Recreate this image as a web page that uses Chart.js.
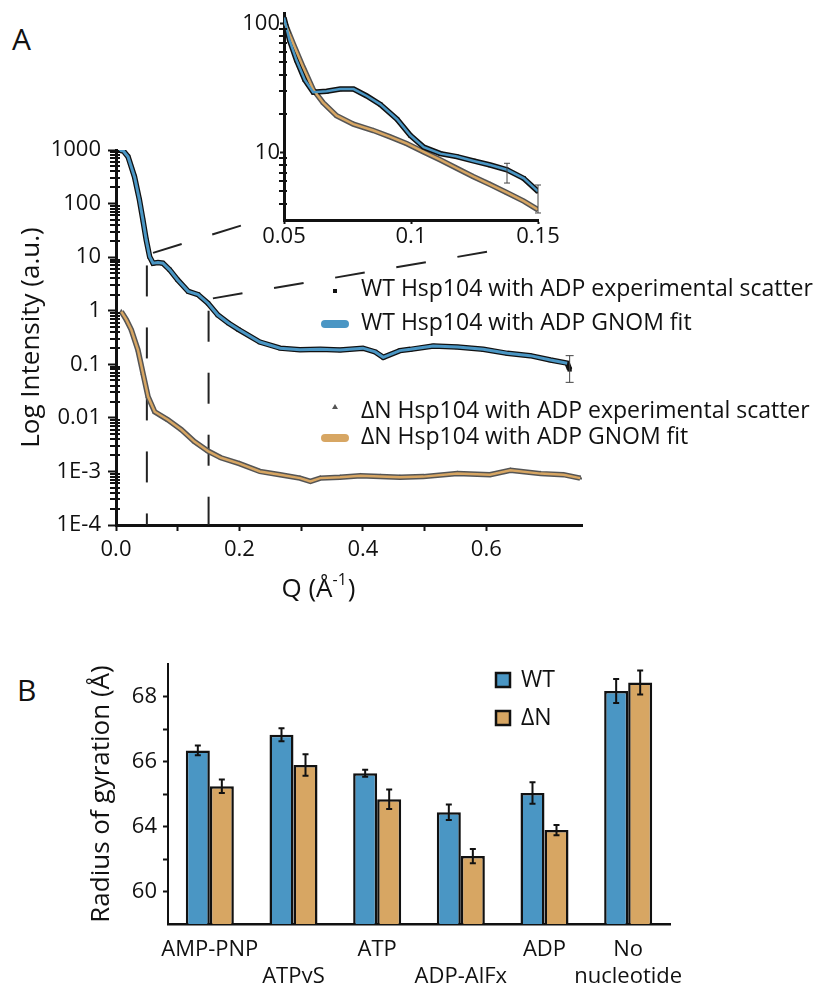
<!DOCTYPE html>
<html lang="en">
<head>
<meta charset="UTF-8">
<title>Hsp104 SAXS and radius of gyration</title>
<script src="https://cdn.jsdelivr.net/npm/chart.js"></script>
<style>
  body { margin: 0; background: #fff; }
  #wrap { position: relative; width: 822px; height: 983px; font-family: 'Open Sans', sans-serif; color: #111; }
  #wrap canvas { position: absolute; }
  .panel { position: absolute; font-size: 30px; line-height: 1; }
</style>
</head>
<body>
<div id="wrap">
  <div class="panel" style="left:12px; top:24px">A</div>
  <div class="panel" style="left:17px; top:675px">B</div>
  <canvas id="mainChart" width="822" height="620" style="left:0; top:0"></canvas>
  <canvas id="insetChart" width="370" height="250" style="left:200px; top:0"></canvas>
  <canvas id="rgChart" width="822" height="343" style="left:0; top:640px"></canvas>
</div>

<script>
// ---- panel A: scattering curves (Q in 1/Å, intensity in a.u.) ----
const wtQ = [0.005, 0.012, 0.0195, 0.030, 0.038, 0.0437, 0.049, 0.0545, 0.060, 0.068, 0.076, 0.087, 0.100,
  0.117, 0.133, 0.149, 0.165, 0.182, 0.198, 0.233, 0.266, 0.298, 0.331, 0.363, 0.400, 0.420, 0.433, 0.460,
  0.477, 0.514, 0.553, 0.595, 0.634, 0.671, 0.704, 0.731];
const wtI = [1000, 960, 750, 316, 117, 49, 21, 10.2, 7.7, 7.9, 7.7, 5.8, 3.76,
  2.3, 2.0, 1.38, 0.83, 0.59, 0.45, 0.26, 0.20, 0.186, 0.19, 0.185, 0.20, 0.17, 0.135, 0.18,
  0.19, 0.22, 0.21, 0.19, 0.16, 0.145, 0.12, 0.105];
// last experimental WT point and its error bar
const wtTailQ = [0.735];
const wtTailI = [0.08];
const wtTailLo = [0.046];
const wtTailHi = [0.145];

const dnQ = [0.0086, 0.0167, 0.0248, 0.0355, 0.0437, 0.0519, 0.0627, 0.084, 0.106, 0.127, 0.149, 0.170,
  0.200, 0.233, 0.266, 0.298, 0.315, 0.331, 0.363, 0.396, 0.428, 0.460, 0.498, 0.553, 0.606, 0.639,
  0.688, 0.725, 0.752];
const dnI = [0.96, 0.68, 0.44, 0.186, 0.068, 0.025, 0.013, 0.0092, 0.006, 0.0036, 0.0024, 0.0018,
  0.0014, 0.001, 0.00087, 0.00075, 0.00065, 0.00075, 0.00078, 0.00083, 0.0008, 0.00078, 0.0008, 0.00091,
  0.00087, 0.00105, 0.00091, 0.00087, 0.00075];

const mainYTickValues = [1000, 100, 10, 1, 0.1, 0.01, 0.001, 0.0001];
const mainYTickLabels = ['1000', '100', '10', '1', '0.1', '0.01', '1E-3', '1E-4'];

// zoomed region marked on the main plot
const zoomEdgeQ = [0.05, 0.15];
const zoomEdgeTopI = [7, 1];

// inset (0.05 - 0.15)
const insetWtQ = [0.05, 0.0522, 0.0549, 0.0582, 0.0615, 0.0668, 0.0721, 0.0774, 0.0826, 0.0879, 0.0945,
  0.0997, 0.105, 0.1116, 0.118, 0.1246, 0.1312, 0.1378, 0.1444, 0.15];
const insetWtI = [111, 74, 52, 36.5, 29.3, 29.8, 31, 31, 27.4, 23.6, 18.1, 13.6, 11.0, 9.8, 9.3, 8.6, 8.0,
  7.35, 6.3, 5.0];
const insetWtErrQ = [0.1378, 0.15];
const insetWtErrLo = [5.8, 3.4];
const insetWtErrHi = [8.25, 5.6];
const insetDnQ = [0.05, 0.0536, 0.0575, 0.0615, 0.0654, 0.0707, 0.0773, 0.0852, 0.0918, 0.0984, 0.105,
  0.1116, 0.118, 0.1246, 0.1312, 0.1378, 0.1444, 0.15];
const insetDnI = [105, 70, 46, 30.7, 24.3, 19.3, 16.6, 14.8, 13.2, 11.7, 10.1, 8.75, 7.55, 6.5, 5.65, 4.88,
  4.2, 3.6];

// ---- panel B: radius of gyration ----
const nucleotides = [['AMP-PNP', ''], ['', 'ATPγS'], ['ATP', ''], ['', 'ADP-AlFx'], ['ADP', ''], ['No', 'nucleotide']];
const rgWT = [66.34, 66.82, 65.64, 64.44, 65.03, 68.17];
const rgWTErr = [0.15, 0.2, 0.11, 0.24, 0.33, 0.37];
const rgDN = [65.24, 65.89, 64.84, 63.09, 63.89, 68.43];
const rgDNErr = [0.21, 0.33, 0.3, 0.22, 0.16, 0.37];
const rgTickValues = [62, 64, 66, 68];
const rgTickLabels = ['60', '64', '66', '68'];

const blue = '#4a96c4';
const tan = '#d7a663';
const grey = '#555555';
const ink = '#111111';
const fontFam = "'Open Sans', sans-serif";

Chart.defaults.font.family = fontFam;
Chart.defaults.color = ink;
Chart.defaults.animation = false;

const pts = (qs, is) => qs.map((q, i) => ({ x: q, y: is[i] }));
const fixedWidth = w => scale => { scale.width = w; };
const fixedHeight = h => scale => { scale.height = h; };

function errBar(ctx, x, yTop, yBot, cap) {
  ctx.beginPath();
  ctx.moveTo(x, yTop); ctx.lineTo(x, yBot);
  ctx.moveTo(x - cap, yTop); ctx.lineTo(x + cap, yTop);
  ctx.moveTo(x - cap, yBot); ctx.lineTo(x + cap, yBot);
  ctx.stroke();
}

// small log ticks (2..9 x 10^n) straddling the y axis line
function logMinorTicks(chart, out, inn) {
  const { ctx, scales: { y } } = chart;
  ctx.save();
  ctx.strokeStyle = ink;
  ctx.lineWidth = 2;
  ctx.beginPath();
  for (let e = Math.floor(Math.log10(y.min)); e <= Math.ceil(Math.log10(y.max)); e++) {
    for (let k = 2; k <= 9; k++) {
      const v = k * Math.pow(10, e);
      if (v <= y.min || v >= y.max) continue;
      const py = Math.round(y.getPixelForValue(v));
      ctx.moveTo(y.right - out, py);
      ctx.lineTo(y.right + inn, py);
    }
  }
  ctx.stroke();
  ctx.restore();
}

// dashed zoom markers, legend, x title
const mainDecor = {
  id: 'mainDecor',
  beforeDatasetsDraw(chart) {
    const { ctx, chartArea, scales: { x, y } } = chart;
    ctx.save();
    ctx.strokeStyle = '#222';
    ctx.lineWidth = 2;
    ctx.setLineDash([31, 31]);
    zoomEdgeQ.forEach((q, i) => {
      const px = x.getPixelForValue(q);
      ctx.beginPath();
      ctx.moveTo(px, y.getPixelForValue(zoomEdgeTopI[i]));
      ctx.lineTo(px, chartArea.bottom);
      ctx.stroke();
    });
    ctx.restore();
  },
  afterDatasetsDraw(chart) {
    const { ctx, scales: { x, y } } = chart;
    ctx.save();
    // connectors toward the inset
    ctx.strokeStyle = '#222';
    ctx.lineWidth = 2;
    ctx.setLineDash([30, 32]);
    ctx.beginPath();
    ctx.moveTo(x.getPixelForValue(0.06), y.getPixelForValue(12));
    ctx.lineTo(246, 224);
    ctx.moveTo(x.getPixelForValue(0.157), y.getPixelForValue(1.7));
    ctx.lineTo(492, 251);
    ctx.stroke();
    ctx.setLineDash([]);
    // error bar on the last WT point
    ctx.strokeStyle = '#444';
    ctx.lineWidth = 1;
    wtTailQ.forEach((q, i) => {
      errBar(ctx, x.getPixelForValue(q), y.getPixelForValue(wtTailHi[i]), y.getPixelForValue(wtTailLo[i]), 4);
    });
    ctx.restore();
  },
  afterDraw(chart) {
    logMinorTicks(chart, 6, 4);
    const { ctx } = chart;
    ctx.save();
    ctx.fillStyle = ink;
    ctx.font = '23px ' + fontFam;
    ctx.textBaseline = 'middle';
    ctx.textAlign = 'left';
    // legend
    ctx.fillRect(333, 289, 4, 4);
    ctx.fillText('WT Hsp104 with ADP experimental scatter', 361, 289);
    ctx.lineCap = 'round';
    ctx.lineWidth = 8;
    ctx.strokeStyle = blue;
    ctx.beginPath(); ctx.moveTo(325, 324); ctx.lineTo(345, 324); ctx.stroke();
    ctx.fillText('WT Hsp104 with ADP GNOM fit', 361, 323);
    ctx.fillStyle = grey;
    ctx.beginPath(); ctx.moveTo(335, 404); ctx.lineTo(338, 409); ctx.lineTo(332, 409); ctx.closePath(); ctx.fill();
    ctx.fillStyle = ink;
    ctx.fillText('ΔN Hsp104 with ADP experimental scatter', 361, 411);
    ctx.strokeStyle = tan;
    ctx.beginPath(); ctx.moveTo(325, 438); ctx.lineTo(345, 438); ctx.stroke();
    ctx.fillText('ΔN Hsp104 with ADP GNOM fit', 361, 437);
    // x axis title with superscript
    const big = '26px ' + fontFam, small = '16px ' + fontFam;
    ctx.font = big;
    const a = 'Q (Å', c = ')';
    const wa = ctx.measureText(a).width, wc = ctx.measureText(c).width;
    ctx.font = small;
    const wb = ctx.measureText('-1').width;
    let sx = 318 - (wa + wb + wc) / 2;
    ctx.font = big; ctx.fillText(a, sx, 590);
    ctx.font = small; ctx.fillText('-1', sx + wa, 580);
    ctx.font = big; ctx.fillText(c, sx + wa + wb + 1, 590);
    ctx.restore();
  }
};

new Chart(document.getElementById('mainChart'), {
  type: 'scatter',
  data: {
    datasets: [
      { label: 'WT Hsp104 with ADP GNOM fit', data: pts(wtQ, wtI), showLine: true,
        borderColor: blue, borderWidth: 3, pointRadius: 0, order: 1 },
      { label: 'WT Hsp104 with ADP experimental scatter', data: pts(wtQ.concat(wtTailQ), wtI.concat(wtTailI)),
        showLine: true, borderColor: ink, borderWidth: 5.5, pointStyle: 'rect', pointRadius: 3,
        pointBackgroundColor: ink, pointBorderWidth: 0, order: 2 },
      { label: 'ΔN Hsp104 with ADP GNOM fit', data: pts(dnQ, dnI), showLine: true,
        borderColor: tan, borderWidth: 2.5, pointRadius: 0, order: 1 },
      { label: 'ΔN Hsp104 with ADP experimental scatter', data: pts(dnQ, dnI), showLine: true,
        borderColor: grey, borderWidth: 5.5, pointStyle: 'triangle', pointRadius: 3,
        pointBackgroundColor: grey, pointBorderWidth: 0, order: 2 }
    ]
  },
  options: {
    responsive: false,
    layout: { padding: { left: 0, top: 150, right: 240, bottom: 15 } },
    plugins: { legend: { display: false }, tooltip: { enabled: false } },
    scales: {
      x: {
        type: 'linear', min: 0, max: 0.755, afterFit: fixedHeight(80),
        ticks: {
          stepSize: 0.1, autoSkip: false, maxRotation: 0, padding: 6, font: { size: 22 }, color: ink,
          callback: v => {
            const k = Math.round(v * 10);
            if (Math.abs(v * 10 - k) > 1e-6) return null;
            return k % 2 === 0 ? (k / 10).toFixed(1) : '';
          }
        },
        grid: { drawOnChartArea: false, tickLength: 6, tickColor: ink, tickWidth: 2 },
        border: { color: ink, width: 3 }
      },
      y: {
        type: 'logarithmic', min: 0.0001, max: 1000, afterFit: fixedWidth(116),
        title: { display: true, text: 'Log Intensity (a.u.)', font: { size: 26 }, color: ink, padding: { top: 16, bottom: 0 } },
        ticks: {
          autoSkip: false, padding: 7, font: { size: 22 }, color: ink,
          callback: v => {
            const i = mainYTickValues.findIndex(t => Math.abs(Math.log10(t) - Math.log10(v)) < 1e-6);
            return i >= 0 ? mainYTickLabels[i] : null;
          }
        },
        grid: { drawOnChartArea: false, tickLength: 8, tickColor: ink, tickWidth: 2 },
        border: { color: ink, width: 3 }
      }
    }
  },
  plugins: [mainDecor]
});

// inset
const insetDecor = {
  id: 'insetDecor',
  afterDatasetsDraw(chart) {
    const { ctx, scales: { x, y } } = chart;
    ctx.save();
    ctx.strokeStyle = '#444';
    ctx.lineWidth = 1;
    insetWtErrQ.forEach((q, i) => {
      errBar(ctx, x.getPixelForValue(q), y.getPixelForValue(insetWtErrHi[i]), y.getPixelForValue(insetWtErrLo[i]), 3);
    });
    ctx.restore();
  },
  afterDraw(chart) { logMinorTicks(chart, 5, 3); }
};

new Chart(document.getElementById('insetChart'), {
  type: 'scatter',
  data: {
    datasets: [
      { data: pts(insetWtQ, insetWtI), showLine: true, borderColor: blue, borderWidth: 2.5, pointRadius: 0, order: 1 },
      { data: pts(insetWtQ, insetWtI), showLine: true, borderColor: ink, borderWidth: 5.5, pointStyle: 'rect',
        pointRadius: 3, pointBackgroundColor: ink, pointBorderWidth: 0, order: 2 },
      { data: pts(insetDnQ, insetDnI), showLine: true, borderColor: tan, borderWidth: 2.5, pointRadius: 0, order: 1 },
      { data: pts(insetDnQ, insetDnI), showLine: true, borderColor: grey, borderWidth: 5.5, pointStyle: 'triangle',
        pointRadius: 3, pointBackgroundColor: grey, pointBorderWidth: 0, order: 2 }
    ]
  },
  options: {
    responsive: false,
    layout: { padding: { left: 0, top: 8, right: 32, bottom: 0 } },
    plugins: { legend: { display: false }, tooltip: { enabled: false } },
    scales: {
      x: {
        type: 'linear', min: 0.05, max: 0.15, afterFit: fixedHeight(30),
        ticks: { stepSize: 0.05, autoSkip: false, maxRotation: 0, padding: 0, font: { size: 22 }, color: ink,
                 callback: v => String(Number(v.toFixed(2))) },
        grid: { drawOnChartArea: false, tickLength: 4, tickColor: ink, tickWidth: 2 },
        border: { color: ink, width: 3 }
      },
      y: {
        type: 'logarithmic', min: 3, max: 120, afterFit: fixedWidth(84),
        ticks: { autoSkip: false, padding: 0, font: { size: 22 }, color: ink,
                 callback: v => (Math.abs(v - 10) < 1e-6 ? '10' : Math.abs(v - 100) < 1e-6 ? '100' : null) },
        grid: { drawOnChartArea: false, tickLength: 4, tickColor: ink, tickWidth: 2 },
        border: { color: ink, width: 3 }
      }
    }
  },
  plugins: [insetDecor]
});

// ---- panel B ----
const rgDecor = {
  id: 'rgDecor',
  afterDatasetsDraw(chart) {
    const { ctx, scales: { y } } = chart;
    ctx.save();
    ctx.strokeStyle = ink;
    ctx.lineWidth = 2;
    chart.data.datasets.forEach((ds, i) => {
      chart.getDatasetMeta(i).data.forEach((bar, j) => {
        errBar(ctx, bar.x, y.getPixelForValue(ds.data[j] + ds.errors[j]), y.getPixelForValue(ds.data[j] - ds.errors[j]), 3);
      });
    });
    ctx.restore();
  },
  afterDraw(chart) {
    const { ctx } = chart;
    ctx.save();
    ctx.lineWidth = 2.5;
    ctx.strokeStyle = ink;
    ctx.font = '23px ' + fontFam;
    ctx.textBaseline = 'middle';
    ctx.fillStyle = blue; ctx.fillRect(496, 33, 14, 14); ctx.strokeRect(496, 33, 14, 14);
    ctx.fillStyle = tan; ctx.fillRect(496, 71, 14, 14); ctx.strokeRect(496, 71, 14, 14);
    ctx.fillStyle = ink;
    ctx.fillText('WT', 521, 40);
    ctx.fillText('ΔN', 521, 78);
    ctx.restore();
  }
};

new Chart(document.getElementById('rgChart'), {
  type: 'bar',
  data: {
    labels: nucleotides,
    datasets: [
      { label: 'WT', data: rgWT, errors: rgWTErr, backgroundColor: blue, borderColor: ink, borderWidth: 2.5,
        categoryPercentage: 0.574, barPercentage: 1 },
      { label: 'ΔN', data: rgDN, errors: rgDNErr, backgroundColor: tan, borderColor: ink, borderWidth: 2.5,
        categoryPercentage: 0.574, barPercentage: 1 }
    ]
  },
  options: {
    responsive: false,
    layout: { padding: { left: 0, top: 24, right: 152, bottom: 0 } },
    plugins: { legend: { display: false }, tooltip: { enabled: false } },
    scales: {
      x: {
        afterFit: fixedHeight(59),
        ticks: { autoSkip: false, maxRotation: 0, padding: 5, font: { size: 22 }, color: ink },
        grid: { display: false },
        border: { color: ink, width: 2.5 }
      },
      y: {
        min: 61, max: 69, afterFit: fixedWidth(168),
        title: { display: true, text: 'Radius of gyration (Å)', font: { size: 26 }, color: ink, padding: { top: 86, bottom: 0 } },
        ticks: {
          stepSize: 1, autoSkip: false, padding: 6, font: { size: 22 }, color: ink,
          callback: v => {
            if (v <= 61 || v >= 69) return null;
            const i = rgTickValues.indexOf(v);
            return i >= 0 ? rgTickLabels[i] : '';
          }
        },
        grid: { drawOnChartArea: false, tickLength: 5, tickColor: ink, tickWidth: 2 },
        border: { color: ink, width: 2 }
      }
    }
  },
  plugins: [rgDecor]
});
</script>
</body>
</html>
